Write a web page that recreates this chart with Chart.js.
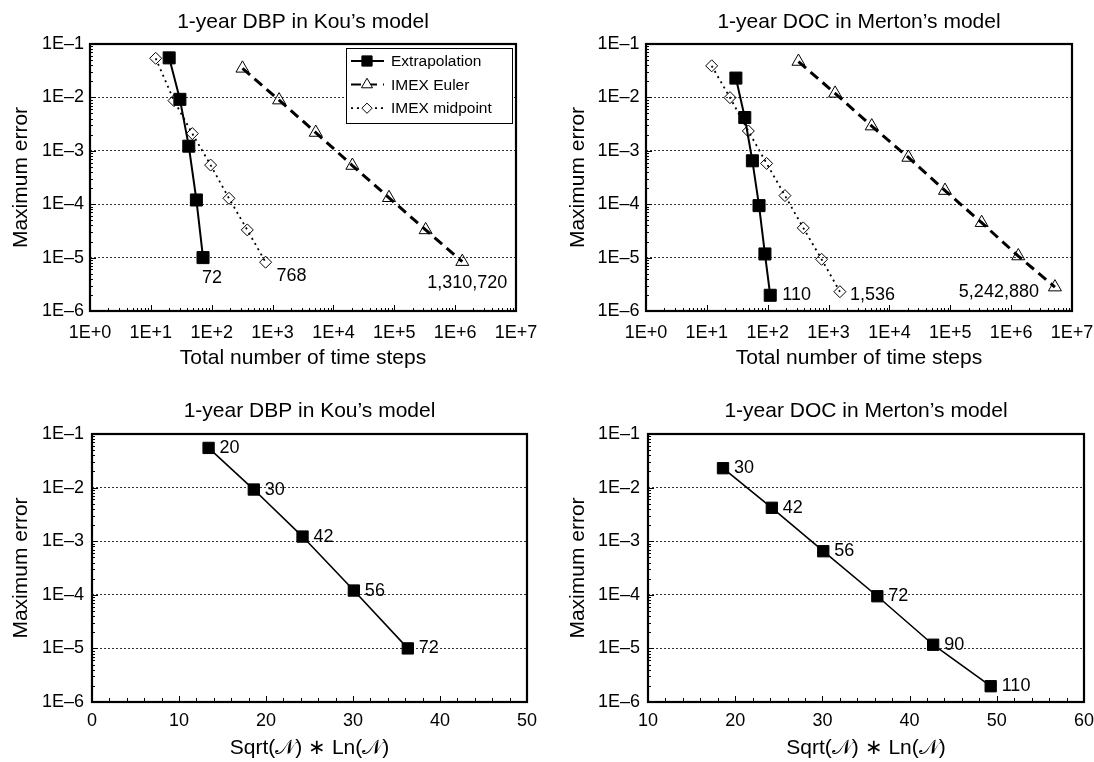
<!DOCTYPE html>
<html>
<head>
<meta charset="utf-8">
<script src="https://cdn.jsdelivr.net/npm/chart.js@4.4.1/dist/chart.umd.min.js"></script>
<style>
  html, body { margin: 0; padding: 0; background: #fff; overflow: hidden; }
  #wrap { position: relative; width: 1094px; height: 762px; overflow: hidden; }
  canvas { position: absolute; }
</style>
</head>
<body>
<div id="wrap">
  <canvas id="kouSteps" width="560" height="372" style="left:0;top:0"></canvas>
  <canvas id="mertonSteps" width="560" height="372" style="left:547px;top:0"></canvas>
  <canvas id="kouSqrt" width="560" height="390" style="left:0;top:372px"></canvas>
  <canvas id="mertonSqrt" width="560" height="390" style="left:547px;top:372px"></canvas>
</div>
<script>
// --- data ---
const kouExtrapSteps = [20, 30, 42, 56, 72];
const kouExtrapErr = [5.5e-2, 9.2e-3, 1.22e-3, 1.2e-4, 1.0e-5];
const kouEulerSteps = [320, 1280, 5120, 20480, 81920, 327680, 1310720];
const kouEulerErr = [3.5e-2, 8.9e-3, 2.2e-3, 5.3e-4, 1.32e-4, 3.3e-5, 8.4e-6];
const kouMidSteps = [12, 24, 48, 96, 192, 384, 768];
const kouMidErr = [5.4e-2, 8.7e-3, 2.1e-3, 5.4e-4, 1.29e-4, 3.3e-5, 8.2e-6];

const mertonExtrapSteps = [30, 42, 56, 72, 90, 110];
const mertonExtrapErr = [2.3e-2, 4.2e-3, 6.5e-4, 9.4e-5, 1.17e-5, 1.97e-6];
const mertonEulerSteps = [320, 1280, 5120, 20480, 81920, 327680, 1310720, 5242880];
const mertonEulerErr = [4.7e-2, 1.19e-2, 2.9e-3, 7.5e-4, 1.8e-4, 4.5e-5, 1.07e-5, 2.8e-6];
const mertonMidSteps = [12, 24, 48, 96, 192, 384, 768, 1536];
const mertonMidErr = [3.9e-2, 9.9e-3, 2.35e-3, 5.8e-4, 1.45e-4, 3.6e-5, 9.3e-6, 2.3e-6];

// Sqrt(N) * Ln(N) positions of the extrapolation points
const kouSqrtLn = [13.4, 18.6, 24.2, 30.1, 36.3];
const mertonSqrtLn = [18.6, 24.2, 30.1, 36.3, 42.7, 49.3];

const errTicks = [1e-6, 1e-5, 1e-4, 1e-3, 1e-2, 1e-1];
const errTickLabels = ['1E\u20136', '1E\u20135', '1E\u20134', '1E\u20133', '1E\u20132', '1E\u20131'];
const stepTicks = [1, 1e1, 1e2, 1e3, 1e4, 1e5, 1e6, 1e7];
const stepTickLabels = ['1E+0', '1E+1', '1E+2', '1E+3', '1E+4', '1E+5', '1E+6', '1E+7'];
const kouSqrtTicks = [0, 10, 20, 30, 40, 50];
const mertonSqrtTicks = [10, 20, 30, 40, 50, 60];

const seriesNames = ['Extrapolation', 'IMEX Euler', 'IMEX midpoint'];

const FONT = '"Liberation Sans", Arial, Helvetica, sans-serif';
const BIG = 21;
const pts = (xs, ys) => xs.map((x, i) => ({ x: x, y: ys[i] }));
const fmt = n => n.toLocaleString('en-US');

function drawMarker(ctx, style, x, y, r, fill) {
  ctx.beginPath();
  if (style === 'rect') {
    const s = r * Math.SQRT1_2;
    ctx.rect(x - s, y - s, 2 * s, 2 * s);
  } else if (style === 'triangle') {
    ctx.moveTo(x, y - r);
    ctx.lineTo(x + r * Math.sin(2 * Math.PI / 3), y - r * Math.cos(2 * Math.PI / 3));
    ctx.lineTo(x + r * Math.sin(4 * Math.PI / 3), y - r * Math.cos(4 * Math.PI / 3));
    ctx.closePath();
  } else {
    ctx.moveTo(x - r, y); ctx.lineTo(x, y - r); ctx.lineTo(x + r, y); ctx.lineTo(x, y + r);
    ctx.closePath();
  }
  ctx.fillStyle = fill;
  ctx.fill();
  ctx.lineWidth = 1;
  ctx.strokeStyle = '#000';
  ctx.setLineDash([]);
  ctx.stroke();
}

// box, inner tick marks and the heading centred over the plot
const framePlugin = {
  id: 'frame',
  afterDatasetsDraw(chart, args, opts) {
    const { ctx, chartArea: a, scales } = chart;
    const x = scales.x, y = scales.y;
    ctx.save();
    ctx.strokeStyle = '#000';
    ctx.lineWidth = 1;
    ctx.setLineDash([]);
    ctx.beginPath();
    for (let d = 1e-6; d < 0.05; d *= 10) {
      for (let k = 1; k <= 9; k++) {
        const py = Math.round(y.getPixelForValue(k * d)) + 0.5;
        const len = k === 1 ? 6 : 3;
        ctx.moveTo(a.left, py); ctx.lineTo(a.left + len, py);
      }
    }
    if (opts.xLog) {
      for (let d = 1; d < 5e6; d *= 10) {
        for (let k = 1; k <= 9; k++) {
          const px = Math.round(x.getPixelForValue(k * d)) + 0.5;
          const len = k === 1 ? 6 : 3;
          ctx.moveTo(px, a.bottom); ctx.lineTo(px, a.bottom - len);
        }
      }
    } else {
      for (let v = x.min; v <= x.max; v += 2) {
        const px = Math.round(x.getPixelForValue(v)) + 0.5;
        const len = v % 10 === 0 ? 6 : 4;
        ctx.moveTo(px, a.bottom); ctx.lineTo(px, a.bottom - len);
      }
    }
    ctx.stroke();
    ctx.lineWidth = 2.2;
    ctx.strokeRect(a.left, a.top, a.right - a.left, a.bottom - a.top);

    if (opts.heading) {
      ctx.fillStyle = '#000';
      ctx.font = BIG + 'px ' + FONT;
      ctx.textAlign = 'center';
      ctx.textBaseline = 'middle';
      ctx.fillText(opts.heading, (a.left + a.right) / 2, opts.headingY);
    }
    ctx.restore();
  }
};

// text next to data points
const notesPlugin = {
  id: 'notes',
  afterDraw(chart, args, opts) {
    if (!opts.items) return;
    const ctx = chart.ctx;
    ctx.save();
    ctx.fillStyle = '#000';
    ctx.font = '18px ' + FONT;
    ctx.textBaseline = 'middle';
    opts.items.forEach(n => {
      const meta = chart.getDatasetMeta(n.ds);
      const el = meta.data[n.i < 0 ? meta.data.length - 1 : n.i];
      ctx.textAlign = n.align || 'left';
      ctx.fillText(n.text, el.x + n.dx, el.y + n.dy);
    });
    ctx.restore();
  }
};

// boxed legend inside the plot
const boxLegendPlugin = {
  id: 'boxLegend',
  afterDraw(chart, args, opts) {
    if (!opts.show) return;
    const { ctx, chartArea: a } = chart;
    const bx = a.left + opts.dx, by = a.top + opts.dy;
    ctx.save();
    ctx.fillStyle = '#fff';
    ctx.fillRect(bx, by, opts.w, opts.h);
    ctx.strokeStyle = '#000';
    ctx.lineWidth = 1;
    ctx.strokeRect(bx + 0.5, by + 0.5, opts.w, opts.h);
    chart.data.datasets.forEach((ds, i) => {
      const ry = by + opts.firstRow + i * opts.rowGap;
      ctx.beginPath();
      ctx.setLineDash(ds.borderDash || []);
      ctx.lineWidth = Math.min(ds.borderWidth, 2);
      ctx.strokeStyle = '#000';
      ctx.moveTo(bx + 5, ry); ctx.lineTo(bx + 38, ry);
      ctx.stroke();
      drawMarker(ctx, ds.pointStyle, bx + 21, ry, ds.pointRadius * 0.85, ds.pointBackgroundColor === '#000' ? '#000' : '#fff');
      ctx.fillStyle = '#000';
      ctx.font = '15.5px ' + FONT;
      ctx.textAlign = 'left';
      ctx.textBaseline = 'middle';
      ctx.fillText(ds.label, bx + 45, ry + 1);
    });
    ctx.restore();
  }
};

Chart.register(framePlugin, notesPlugin, boxLegendPlugin);

function errAxis(width, titlePad, tickPad) {
  return {
    type: 'logarithmic', position: 'left', min: 1e-6, max: 1e-1,
    afterBuildTicks: s => { s.ticks = errTicks.map(v => ({ value: v })); },
    afterFit: s => { s.width = width; },
    ticks: {
      autoSkip: false, padding: tickPad, color: '#000',
      font: { family: FONT, size: 18 },
      callback: (v, i) => errTickLabels[i]
    },
    grid: {
      drawTicks: false, lineWidth: 1,
      color: c => (c.index === 0 || c.index === errTicks.length - 1) ? 'rgba(0,0,0,0)' : '#333'
    },
    border: { display: false, dash: [2, 2] },
    title: {
      display: true, text: 'Maximum error', color: '#000',
      font: { family: FONT, size: BIG }, padding: { top: titlePad, bottom: 0 }
    }
  };
}

function stepAxis(height) {
  return {
    type: 'logarithmic', position: 'bottom', min: 1, max: 1e7,
    afterBuildTicks: s => { s.ticks = stepTicks.map(v => ({ value: v })); },
    afterFit: s => { s.height = height; },
    ticks: {
      autoSkip: false, maxRotation: 0, padding: 11, color: '#000',
      font: { family: FONT, size: 18 },
      callback: (v, i) => stepTickLabels[i]
    },
    grid: { display: false, drawTicks: false },
    border: { display: false },
    title: {
      display: true, text: 'Total number of time steps', color: '#000',
      font: { family: FONT, size: BIG }, padding: { top: 0, bottom: 1.4 }
    }
  };
}

function sqrtAxis(tickVals, height) {
  return {
    type: 'linear', position: 'bottom',
    min: tickVals[0], max: tickVals[tickVals.length - 1],
    afterBuildTicks: s => { s.ticks = tickVals.map(v => ({ value: v })); },
    afterFit: s => { s.height = height; },
    ticks: {
      autoSkip: false, maxRotation: 0, padding: 8, color: '#000',
      font: { family: FONT, size: 18 },
      callback: (v, i) => String(tickVals[i])
    },
    grid: { display: false, drawTicks: false },
    border: { display: false },
    title: {
      display: true, text: 'Sqrt(\u{1D4A9}) \u2217 Ln(\u{1D4A9})', color: '#000',
      font: { family: FONT, size: BIG }, padding: { top: 0, bottom: 1.4 }
    }
  };
}

function extrapSet(data, r, w) {
  return {
    label: seriesNames[0], data: data,
    borderColor: '#000', borderWidth: w, borderDash: [],
    pointStyle: 'rect', pointRadius: r, pointBackgroundColor: '#000',
    pointBorderColor: '#000', pointBorderWidth: 1
  };
}
function eulerSet(data) {
  return {
    label: seriesNames[1], data: data,
    borderColor: '#000', borderWidth: 3, borderDash: [10, 6],
    pointStyle: 'triangle', pointRadius: 7.5, pointBackgroundColor: 'rgba(255,255,255,0)',
    pointBorderColor: '#000', pointBorderWidth: 1
  };
}
function midSet(data) {
  return {
    label: seriesNames[2], data: data,
    borderColor: '#000', borderWidth: 1.8, borderDash: [2, 4],
    pointStyle: 'rectRot', pointRadius: 6, pointBackgroundColor: 'rgba(255,255,255,0)',
    pointBorderColor: '#000', pointBorderWidth: 1
  };
}

function build(id, o) {
  return new Chart(document.getElementById(id), {
    type: 'line',
    data: { datasets: o.datasets },
    options: {
      responsive: false, animation: false,
      layout: { padding: { left: 0, top: o.areaTop, bottom: 0, right: o.padRight } },
      scales: { x: o.x, y: o.y },
      elements: { line: { tension: 0, fill: false } },
      plugins: {
        legend: { display: false },
        tooltip: { enabled: false },
        title: { display: false },
        frame: { xLog: o.xLog, heading: o.title, headingY: o.titleY },
        notes: { items: o.notes },
        boxLegend: o.legend || { show: false }
      }
    }
  });
}

build('kouSteps', {
  title: '1-year DBP in Kou\u2019s model', titleY: 22.7, areaTop: 44, padRight: 44, xLog: true,
  x: stepAxis(61), y: errAxis(90, 8.4, 6),
  datasets: [
    extrapSet(pts(kouExtrapSteps, kouExtrapErr), 8.5, 2),
    eulerSet(pts(kouEulerSteps, kouEulerErr)),
    midSet(pts(kouMidSteps, kouMidErr))
  ],
  notes: [
    { ds: 0, i: -1, text: fmt(kouExtrapSteps[kouExtrapSteps.length - 1]), dx: -1, dy: 20 },
    { ds: 2, i: -1, text: fmt(kouMidSteps[kouMidSteps.length - 1]), dx: 11, dy: 14 },
    { ds: 1, i: -1, text: fmt(kouEulerSteps[kouEulerSteps.length - 1]), dx: 5, dy: 21, align: 'center' }
  ],
  legend: { show: true, dx: 256, dy: 4, w: 166, h: 75, firstRow: 13, rowGap: 23.6 }
});

build('mertonSteps', {
  title: '1-year DOC in Merton\u2019s model', titleY: 22.7, areaTop: 44, padRight: 35, xLog: true,
  x: stepAxis(61), y: errAxis(99, 18.8, 6.5),
  datasets: [
    extrapSet(pts(mertonExtrapSteps, mertonExtrapErr), 8.5, 2),
    eulerSet(pts(mertonEulerSteps, mertonEulerErr)),
    midSet(pts(mertonMidSteps, mertonMidErr))
  ],
  notes: [
    { ds: 0, i: -1, text: fmt(mertonExtrapSteps[mertonExtrapSteps.length - 1]), dx: 12, dy: 0 },
    { ds: 2, i: -1, text: fmt(mertonMidSteps[mertonMidSteps.length - 1]), dx: 10, dy: 3 },
    { ds: 1, i: -1, text: fmt(mertonEulerSteps[mertonEulerSteps.length - 1]), dx: -16, dy: 5, align: 'right' }
  ]
});

build('kouSqrt', {
  title: '1-year DBP in Kou\u2019s model', titleY: 39.7, areaTop: 62, padRight: 33, xLog: false,
  x: sqrtAxis(kouSqrtTicks, 60), y: errAxis(92, 8.4, 8),
  datasets: [extrapSet(pts(kouSqrtLn, kouExtrapErr), 8, 1.6)],
  notes: kouExtrapSteps.map((n, i) => ({ ds: 0, i: i, text: String(n), dx: 11, dy: 0 }))
});

build('mertonSqrt', {
  title: '1-year DOC in Merton\u2019s model', titleY: 39.7, areaTop: 62, padRight: 23, xLog: false,
  x: sqrtAxis(mertonSqrtTicks, 60), y: errAxis(101, 18.8, 8),
  datasets: [extrapSet(pts(mertonSqrtLn, mertonExtrapErr), 8, 1.6)],
  notes: mertonExtrapSteps.map((n, i) => ({ ds: 0, i: i, text: String(n), dx: 11, dy: 0 }))
});
</script>
</body>
</html>
